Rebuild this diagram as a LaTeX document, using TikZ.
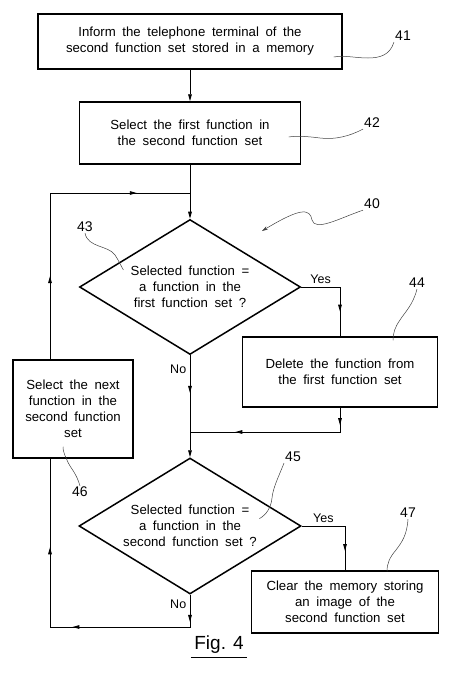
\documentclass[tikz,border=0pt]{standalone}
\usepackage{fontspec}
\setmainfont{Liberation Sans}[WordSpace=1.8]
\newfontfamily\figfont{Liberation Sans}
\usetikzlibrary{arrows.meta,calc,decorations.markings,shapes.geometric}
\tikzstyle{box} = [rectangle, draw=black, line width=1.5pt, align=center, inner sep=0pt, font=\fontsize{13.2}{16}\selectfont]
\tikzstyle{decision} = [diamond, draw=black, line width=1.5pt, aspect=1.63, align=center, inner sep=0pt, font=\fontsize{13.2}{16}\selectfont]
\tikzstyle{flow} = [line width=0.9pt, >={Triangle[length=7pt,width=3.6pt]}]
\tikzstyle{leader} = [line width=0.5pt, black!75]
\tikzstyle{ref} = [inner sep=1pt, font=\fontsize{14}{16}\selectfont]
\tikzstyle{answer} = [font=\fontsize{12.5}{14}\selectfont]
\tikzset{mid/.style={postaction={decorate,decoration={markings,mark=at position #1 with {\arrow{Triangle[length=7pt,width=3.6pt]}}}}}}

\begin{document}
\begin{tikzpicture}[x=1pt,y=-1pt]
\useasboundingbox (0,0) rectangle (474,683);
% steps
\node[box, minimum width=304pt, minimum height=55pt] (b41) at (190,41.5) {Inform the telephone terminal of the\\second function set stored in a memory};
\node[box, minimum width=221pt, minimum height=62pt] (b42) at (190,133) {Select the first function in\\the second function set};
\node[decision, minimum width=221pt, minimum height=135pt] (d43) at (190,287) {Selected function =\\a function in the\\first function set ?};
\node[box, minimum width=195pt, minimum height=70pt] (b44) at (340,372) {Delete the function from\\the first function set};
\node[box, minimum width=120pt, minimum height=98pt] (b46) at (73,409) {Select the next\\function in the\\second function\\set};
\node[decision, minimum width=222pt, minimum height=136pt] (d45) at (190,526) {Selected function =\\a function in the\\second function set ?};
\node[box, minimum width=187pt, minimum height=62pt] (b47) at (345,602) {Clear the memory storing\\an image of the\\second function set};
\coordinate (join) at (190,193);
\coordinate (back) at (50,193);
\coordinate (merge) at (190,432);
\coordinate (low) at (50,627);
% flow lines
\draw[flow,->] (b41) -- (b42);
\draw[flow,->] (b42) -- (d43);
\draw[flow, mid=0.5] (b46.north -| back) -- (back);
\draw[flow, mid=0.62] (back) -- (join);
\draw[flow, mid=0.72] (d43.east) -| node[pos=0.25, above, answer] (yes43) {Yes} (b44.north);
\draw[flow, mid=0.1, mid=0.74] (b44.south) |- (merge);
\draw[flow,->, mid=0.37] (d43.south) -- node[pos=0.14, left, answer] (no43) {No} (d45.north);
\draw[flow, mid=0.78] (d45.east) -| node[pos=0.25, above, answer] (yes45) {Yes} (b47.north);
\draw[flow, mid=0.08, mid=0.44, mid=0.74] (d45.south) |- node[pos=0.15, left, answer] (no45) {No} (low) -- (b46.south -| low);
% reference numerals
\node[ref] (r41) at (403,36) {41};
\node[ref] (r42) at (372,123) {42};
\node[ref] (r40) at (372,204) {40};
\node[ref] (r43) at (85,227) {43};
\node[ref] (r44) at (417,283) {44};
\node[ref] (r46) at (80,492) {46};
\node[ref] (r45) at (293,457) {45};
\node[ref] (r47) at (408,513) {47};
\draw[leader] (r41.south west) .. controls (390,55) and (380,58) .. (368,58) .. controls (355,58) and (345,55) .. ($(b41.east)+(-9,15.5)$);
\draw[leader] (r42.south west) .. controls (350,136) and (335,140) .. (320,138) .. controls (305,136) and (295,136) .. ($(b42.east)+(-12.5,4)$);
\draw[leader, -{Stealth[length=6pt,width=3.5pt]}] (r40.south west) .. controls (340,218) and (315,232) .. (312,220) .. controls (310,208) and (300,208) .. (262,231);
\draw[leader] (r43.south) .. controls (88,248) and (108,245) .. (115,255) .. controls (119,261) and (121,266) .. ($(d43.north west)+(-11,17)$);
\draw[leader] (r44.south) .. controls (413,305) and (405,312) .. (400,320) .. controls (395,327) and (393,333) .. ($(b44.north)+(53,4)$);
\draw[leader] (r46.north) .. controls (76,472) and (70,468) .. (67,460) .. controls (64,454) and (63,450) .. ($(b46.south)+(-10,-12)$);
\draw[leader] (r45.south west) .. controls (278,478) and (273,488) .. (272,498) .. controls (271,508) and (266,515) .. ($(d45.north east)+(13.5,27)$);
\draw[leader] (r47.south) .. controls (407,535) and (402,542) .. (396,550) .. controls (390,557) and (387,563) .. ($(b47.north)+(42,1)$);
% caption
\node[font=\figfont\fontsize{19}{20}\selectfont] (fig) at (219,645) {Fig. 4};
\draw[line width=0.9pt] (fig.south west) -- (fig.south east);
\end{tikzpicture}
\end{document}
